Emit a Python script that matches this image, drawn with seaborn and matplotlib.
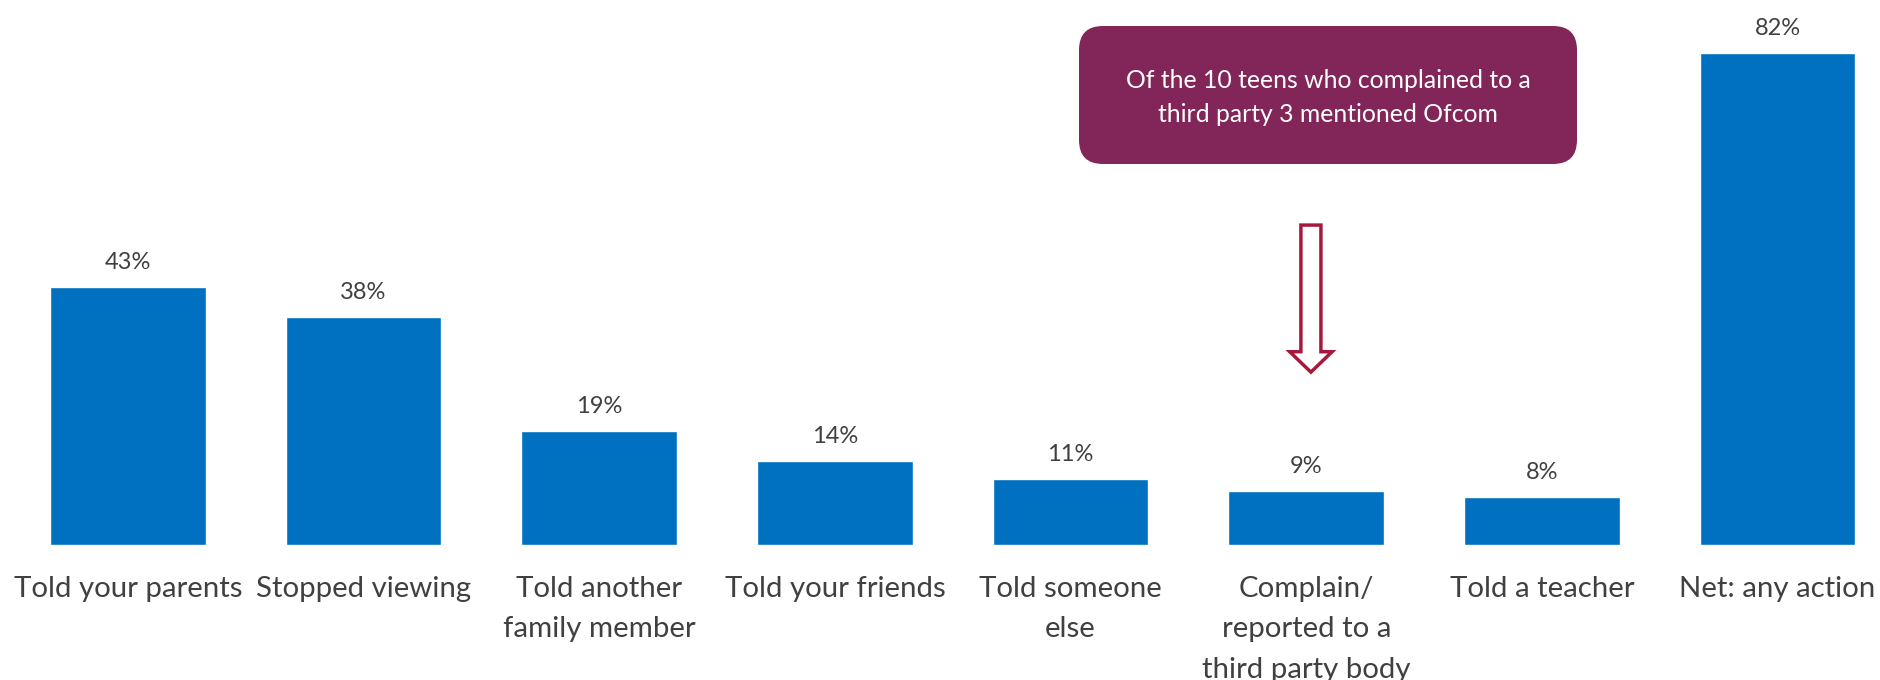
import matplotlib
matplotlib.use("Agg")
import matplotlib.pyplot as plt
import seaborn as sns
import pandas as pd
from matplotlib.patches import FancyBboxPatch, FancyArrow

categories = ["Told your parents", "Stopped viewing", "Told another\nfamily member",
              "Told your friends", "Told someone\nelse",
              "Complain/\nreported to a\nthird party body", "Told a teacher", "Net: any action"]
values = [43, 38, 19, 14, 11, 9, 8, 82]
value_labels = ["43%", "38%", "19%", "14%", "11%", "9%", "8%", "82%"]
note_text = "Of the 10 teens who complained to a\nthird party 3 mentioned Ofcom"

sns.set_theme(style="white")
plt.rcParams['font.family'] = ['Lato', 'DejaVu Sans']

df = pd.DataFrame({"cat": categories, "val": values})

fig = plt.figure(figsize=(18.8, 6.8), dpi=100)
ax = fig.add_axes([0, 135/680, 1, 545/680])
sns.barplot(data=df, x="cat", y="val", color="#0070C0", saturation=1, width=0.66, ax=ax)
ax.set_xlim(-0.543, 7.435)
ax.set_ylim(0, 90.8)
ax.set_xlabel("")
ax.set_ylabel("")
ax.set_yticks([])
for s in ax.spines.values():
    s.set_visible(False)
ax.tick_params(axis="x", length=0, pad=22, labelsize=21.2, labelcolor="#404040")
for t in ax.get_xticklabels():
    t.set_linespacing(1.7)
    t.set_verticalalignment("top")

ax.bar_label(ax.containers[0], labels=value_labels, padding=10, fontsize=17, color="#404040")

# annotation box
box = FancyBboxPatch((10.79, 5.16), 4.98, 1.38, boxstyle="round,pad=0,rounding_size=0.24",
                     transform=fig.dpi_scale_trans, facecolor="#822659", edgecolor="none")
fig.patches.append(box)
fig.text(13.28/18.8, (6.8 - 0.975)/6.8, note_text, ha="center", va="center", color="white",
         fontsize=17.8, linespacing=1.62)

# hollow arrow
arr = FancyArrow(5.02, 53.3, 0, -24.5, width=0.085, head_width=0.18, head_length=3.4,
                 length_includes_head=True, facecolor="white", edgecolor="#A6193C", linewidth=2.5)
ax.add_patch(arr)

fig.savefig("out.png", dpi=100)
